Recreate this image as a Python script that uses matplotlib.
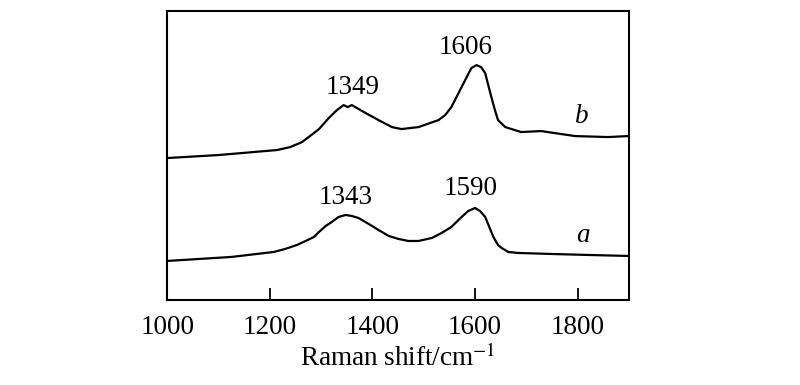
import numpy as np
import matplotlib
matplotlib.use("Agg")
import matplotlib.pyplot as plt

plt.rcParams['font.family'] = ['Liberation Serif', 'DejaVu Serif']
plt.rcParams['mathtext.fontset'] = 'stix'

# Raman spectra (wavenumber, relative intensity)
wn_b = [1000, 1100, 1214, 1240, 1263, 1286, 1296, 1315, 1331, 1344, 1352,
        1360, 1387, 1412, 1438, 1457, 1490, 1529, 1542, 1554, 1568, 1581,
        1593, 1603, 1612, 1620, 1626, 1632, 1639, 1645, 1659, 1690, 1729,
        1795, 1859, 1900]
int_b = [142, 145, 150, 153, 158, 167, 171, 182, 190, 195, 193,
         195, 187, 180, 173, 171, 173, 180, 185, 193, 207, 220,
         232, 235, 233, 227, 215, 203, 190, 180, 173, 168, 169,
         164, 163, 164]

wn_a = [1000, 1125, 1208, 1230, 1253, 1270, 1286, 1296, 1309, 1321, 1334,
        1348, 1360, 1373, 1393, 1412, 1432, 1451, 1470, 1490, 1516, 1535,
        1554, 1574, 1587, 1600, 1610, 1620, 1628, 1636, 1645, 1652, 1665,
        1684, 1748, 1820, 1900]
int_a = [39, 43, 48, 51, 55, 59, 63, 68, 74, 78, 83,
         85, 84, 82, 76, 70, 64, 61, 59, 59, 62, 67,
         73, 83, 89, 92, 89, 83, 73, 63, 55, 52, 48,
         47, 46, 45, 44]

# peak labels: text, x, y
peak_labels = [("1349", 1362, 213), ("1606", 1581, 253),
               ("1343", 1348, 103), ("1590", 1591, 112)]
curve_labels = [("b", 1809, 184), ("a", 1810, 64)]

fig = plt.figure(figsize=(8, 3.85), dpi=100)
ax = fig.add_axes([0.209, 0.221, 0.577, 0.750])

ax.plot(wn_b, int_b, color='black', linewidth=1.6)
ax.plot(wn_a, int_a, color='black', linewidth=1.6)

for txt, x, y in peak_labels:
    ax.text(x, y, txt, ha='center', va='center', fontsize=19.5)
for txt, x, y in curve_labels:
    ax.text(x, y, txt, ha='center', va='center', fontsize=19.5, style='italic')

ax.set_xlim(1000, 1900)
ax.set_ylim(0, 289)
ax.set_xticks([1000, 1200, 1400, 1600, 1800])
ax.set_yticks([])
ax.tick_params(axis='x', direction='in', length=8.5, width=1.3,
               labelsize=19.5, pad=11)
for s in ax.spines.values():
    s.set_linewidth(1.5)

ax.set_xlabel(r"Raman shift/cm$^{-1}$", fontsize=19.5, labelpad=3)

fig.savefig("out.png", dpi=100)
